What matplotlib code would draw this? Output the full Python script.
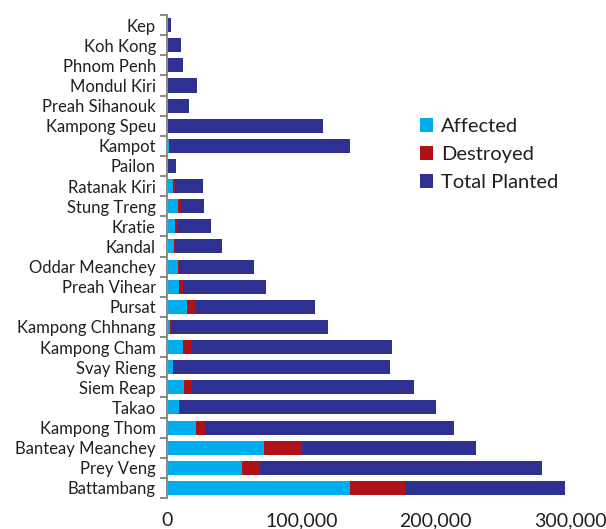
import matplotlib
matplotlib.use("Agg")
import matplotlib.pyplot as plt
from matplotlib.ticker import FuncFormatter, MultipleLocator
import numpy as np

plt.rcParams["font.family"] = ["Lato", "DejaVu Sans"]

# bottom to top, as drawn
provinces = [
    "Battambang", "Prey Veng", "Banteay Meanchey", "Kampong Thom", "Takao",
    "Siem Reap", "Svay Rieng", "Kampong Cham", "Kampong Chhnang", "Pursat",
    "Preah Vihear", "Oddar Meanchey", "Kandal", "Kratie", "Stung Treng",
    "Ratanak Kiri", "Pailon", "Kampot", "Kampong Speu", "Preah Sihanouk",
    "Mondul Kiri", "Phnom Penh", "Koh Kong", "Kep",
]
affected = [
    136000, 55500, 72500, 21500, 9000,
    12500, 4500, 11700, 2200, 15000,
    9000, 8000, 5200, 5700, 8000,
    4500, 0, 1300, 300, 0,
    0, 0, 0, 0,
]
destroyed = [
    41000, 14000, 28000, 7000, 500,
    6000, 300, 7000, 1500, 6500,
    3000, 1000, 700, 2500, 2400,
    1500, 1000, 0, 0, 0,
    0, 0, 0, 0,
]
total_planted = [
    119000, 210000, 129500, 185500, 191000,
    165000, 161000, 148500, 116500, 88500,
    62000, 56000, 35000, 24500, 17200,
    21000, 5700, 135000, 116000, 16400,
    22400, 11900, 10400, 3300,
]

c_aff = "#00AEEF"
c_des = "#B01117"
c_tot = "#2E3192"

fig = plt.figure(figsize=(6.06, 5.29), dpi=100)
ax = fig.add_axes([0.2756, 0.0586, 0.665, 0.913])

y = np.arange(len(provinces))
aff = np.array(affected)
des = np.array(destroyed)
tot = np.array(total_planted)
h = 0.7

ax.barh(y, aff, height=h, color=c_aff, label="Affected")
ax.barh(y, des, height=h, left=aff, color=c_des, label="Destroyed")
ax.barh(y, tot, height=h, left=aff + des, color=c_tot, label="Total Planted")

ax.set_ylim(-0.5, len(provinces) - 0.5)
ax.set_xlim(0, 300000)

ax.set_yticks(y)
ax.set_yticklabels(provinces, fontsize=12, color="#231F20")
ax.set_yticks(np.arange(-0.5, len(provinces), 1), minor=True)
ax.tick_params(axis="y", which="major", length=0, pad=8)
ax.tick_params(axis="y", which="minor", length=5, width=1.5, color="#8C8C8C", direction="out")

ax.xaxis.set_major_locator(MultipleLocator(100000))
ax.xaxis.set_major_formatter(FuncFormatter(lambda v, p: f"{int(v):,}"))
ax.tick_params(axis="x", length=0, pad=10, labelsize=14, labelcolor="#231F20")

for s in ["top", "right", "bottom"]:
    ax.spines[s].set_visible(False)
ax.spines["left"].set_color("#8C8C8C")
ax.spines["left"].set_linewidth(1.5)

fig.legend(
    loc="upper left",
    bbox_to_anchor=(0.663, 0.811),
    frameon=False,
    fontsize=14.5,
    handlelength=0.65,
    handleheight=0.65,
    handletextpad=0.4,
    labelspacing=0.55,
    labelcolor="#231F20",
)

fig.savefig("out.png", dpi=100)
